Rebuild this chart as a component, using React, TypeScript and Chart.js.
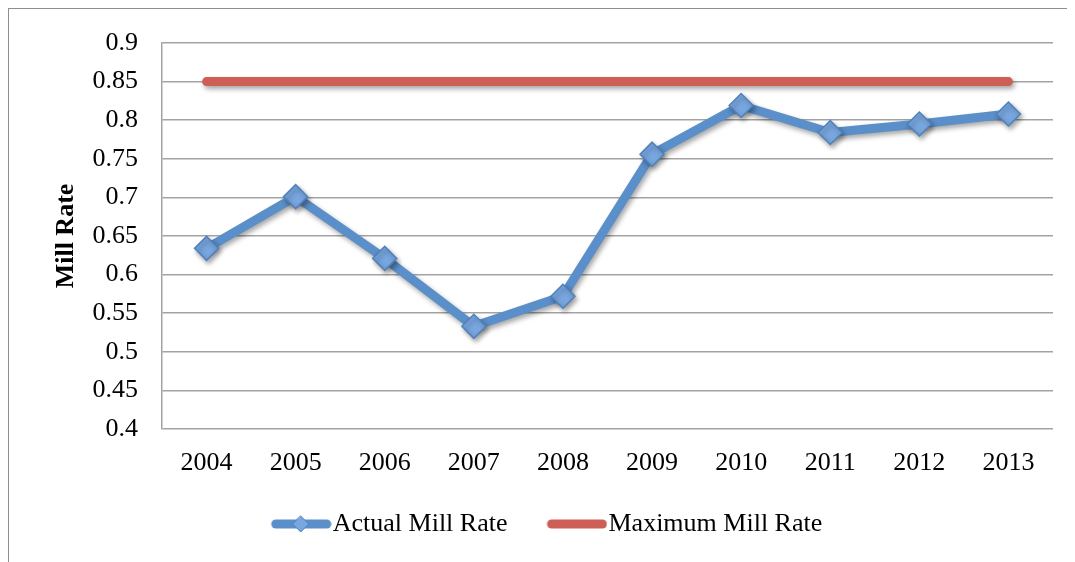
import React, { useEffect, useRef } from "react";
import { Chart, registerables } from "chart.js";

Chart.register(...registerables);

const years = ["2004", "2005", "2006", "2007", "2008", "2009", "2010", "2011", "2012", "2013"];
const actualMillRate = [0.634, 0.701, 0.621, 0.533, 0.572, 0.756, 0.819, 0.784, 0.795, 0.808];
const maximumMillRate = [0.85, 0.85, 0.85, 0.85, 0.85, 0.85, 0.85, 0.85, 0.85, 0.85];
const yMin = 0.4;
const yMax = 0.9;
const yStep = 0.05;

const BLUE = "#5a8fca";
const BLUE_FILL = "#78a6de";
const BLUE_EDGE = "#4f81bd";
const RED = "#cd5f57";
const FONT = "'Liberation Serif', 'DejaVu Serif', serif";

// Swatch image: 104 px wide, visible 61 px line at its right end (x 43..104)
function makeSwatch(color: string, withDiamond: boolean): HTMLCanvasElement {
  const c = document.createElement("canvas");
  c.width = 104;
  c.height = 22;
  const g = c.getContext("2d")!;
  g.strokeStyle = color;
  g.lineWidth = 9;
  g.lineCap = "round";
  g.beginPath();
  g.moveTo(48, 11);
  g.lineTo(99, 11);
  g.stroke();
  if (withDiamond) {
    g.beginPath();
    g.moveTo(73, 3);
    g.lineTo(81, 11);
    g.lineTo(73, 19);
    g.lineTo(65, 11);
    g.closePath();
    g.fillStyle = BLUE_FILL;
    g.fill();
    g.lineWidth = 1;
    g.strokeStyle = BLUE_EDGE;
    g.stroke();
  }
  return c;
}

const shadowPlugin = {
  id: "lineShadow",
  beforeDatasetsDraw(chart: any) {
    const ctx = chart.ctx;
    ctx.save();
    ctx.shadowColor = "rgba(0,0,0,0.35)";
    ctx.shadowBlur = 5;
    ctx.shadowOffsetX = 2;
    ctx.shadowOffsetY = 3;
  },
  afterDatasetsDraw(chart: any) {
    chart.ctx.restore();
  },
};

export default function App() {
  const ref = useRef<HTMLCanvasElement>(null);

  useEffect(() => {
    if (!ref.current) return;
    const blueSwatch = makeSwatch(BLUE, true);
    const redSwatch = makeSwatch(RED, false);
    const chart = new Chart(ref.current, {
      type: "line",
      data: {
        labels: years,
        datasets: [
          {
            label: "Actual Mill Rate",
            data: actualMillRate,
            borderColor: BLUE,
            borderWidth: 9,
            backgroundColor: BLUE_FILL,
            pointStyle: "rectRot",
            pointRadius: 12,
            pointBorderWidth: 1.5,
            pointBorderColor: BLUE_EDGE,
            pointBackgroundColor: BLUE_FILL,
            tension: 0,
            borderJoinStyle: "round",
            order: 1,
          },
          {
            label: "Maximum Mill Rate",
            data: maximumMillRate,
            borderColor: RED,
            borderWidth: 9,
            backgroundColor: RED,
            pointRadius: 0,
            borderCapStyle: "round",
            tension: 0,
            order: 2,
          },
        ],
      },
      options: {
        animation: false,
        responsive: false,
        layout: { padding: { top: 34, right: 22, left: 0, bottom: 15 } },
        plugins: {
          tooltip: { enabled: false },
          legend: {
            position: "bottom",
            labels: {
              usePointStyle: true,
              pointStyleWidth: 80,
              font: { family: FONT, size: 26 },
              color: "#000",
              padding: 8,
              generateLabels: (chart: any) =>
                chart.data.datasets.map((ds: any, i: number) => ({
                  text: ds.label,
                  pointStyle: i === 0 ? blueSwatch : redSwatch,
                  fillStyle: ds.borderColor,
                  strokeStyle: ds.borderColor,
                  lineWidth: 0,
                  hidden: false,
                  datasetIndex: i,
                  fontColor: "#000",
                })),
            },
          },
        },
        scales: {
          x: {
            offset: true,
            grid: { display: false, drawTicks: false },
            border: { display: false },
            ticks: { font: { family: FONT, size: 26 }, color: "#000", padding: 19 },
            afterFit: (s: any) => {
              s.height = 74;
            },
          },
          y: {
            min: yMin,
            max: yMax,
            ticks: {
              stepSize: yStep,
              font: { family: FONT, size: 26 },
              color: "#000",
              padding: 6,
              callback: (v: any) => String(Number(Number(v).toFixed(2))),
            },
            grid: {
              color: "#a3a3a3",
              lineWidth: 1.5,
              drawTicks: true,
              tickLength: 18,
              tickColor: "rgba(0,0,0,0)",
            },
            border: { color: "#a3a3a3", width: 1.5 },
            title: {
              display: true,
              text: "Mill Rate",
              font: { family: FONT, size: 26, weight: "bold" },
              color: "#000",
              padding: { top: 42, bottom: 0 },
            },
            afterFit: (s: any) => {
              s.width = 153;
            },
          },
        },
      },
      plugins: [shadowPlugin],
    } as any);
    return () => chart.destroy();
  }, []);

  return (
    <div
      style={{
        width: 1066,
        height: 553,
        borderLeft: "1px solid #8e8e8e",
        borderTop: "1px solid #8e8e8e",
        background: "#fff",
      }}
    >
      <canvas ref={ref} width={1066} height={553} style={{ display: "block" }} />
    </div>
  );
}
